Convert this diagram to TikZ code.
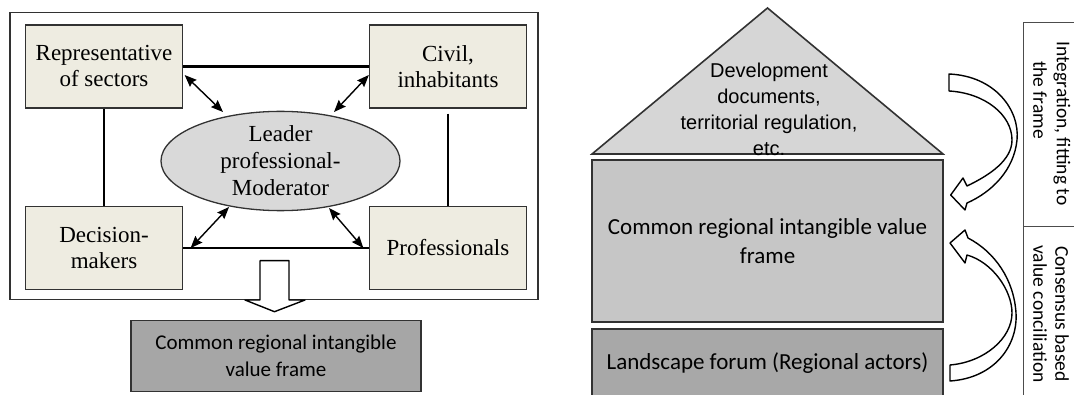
\documentclass[tikz,border=0pt]{standalone}
\usepackage{fontspec}
\setmainfont{Liberation Serif}
\newfontfamily\calfont{Carlito}
\newfontfamily\arifont{Liberation Sans}
\usetikzlibrary{arrows.meta,shapes.geometric}
\definecolor{beige}{RGB}{238,236,225}
\definecolor{ellgray}{RGB}{217,217,217}
\definecolor{darkbox}{RGB}{166,166,166}
\definecolor{trigray}{RGB}{214,214,214}
\definecolor{midgray}{RGB}{198,198,198}
\definecolor{landgray}{RGB}{168,168,168}
\definecolor{edge}{RGB}{50,50,50}
\begin{document}
\begin{tikzpicture}[x=1pt,y=-1pt,
  actor/.style={draw=edge,line width=1.3pt,fill=beige,minimum width=157pt,minimum height=83pt,inner sep=0pt,align=center,font=\fontsize{23}{26}\selectfont},
  link/.style={line width=2.6pt,black},
  dbl/.style={line width=1.4pt,{Stealth[length=12pt,width=9.5pt,inset=1.5pt]}-{Stealth[length=12pt,width=9.5pt,inset=1.5pt]}},
  hollow/.style={draw=black,line width=1.4pt,fill=white,line join=round},
  grayblock/.style={draw=edge,line width=1.6pt,inner sep=0pt,align=center},
  vlabel/.style={rotate=-90,font=\calfont\fontsize{19.5}{23}\selectfont,inner sep=0pt}
]
\useasboundingbox (0,0) rectangle (1074,395);
% ---------- left panel ----------
\node[draw=edge,line width=1.3pt,minimum width=528pt,minimum height=287pt,inner sep=0pt] (outer) at (274,156.3) {};
\node[actor] (rep) at (104,66.4) {Representative\\of sectors};
\node[actor] (civ) at (448,66.4) {Civil,\\inhabitants};
\node[actor] (dec) at (104,248) {Decision-\\makers};
\node[actor] (pro) at (448,248) {Professionals};
\node[ellipse,draw=edge,line width=1.3pt,fill=ellgray,minimum width=239pt,minimum height=96pt,inner sep=0pt,align=center,font=\fontsize{23}{27}\selectfont] (ell) at (280.5,161) {Leader\\professional-\\Moderator};
\draw[link] (rep.east) -- (civ.west);
\draw[link] (dec.east) -- (pro.west);
\draw[link] (rep.south) -- (dec.north);
\draw[link] ([yshift=-5pt]civ.south) -- (pro.north);
\draw[dbl] ([shift={(1.5,8.6)}]rep.east) -- ([shift={(-57.5,-49)}]ell.center);
\draw[dbl] ([shift={(0,8.6)}]civ.west) -- ([shift={(53.5,-49)}]ell.center);
\draw[dbl] ([shift={(7.5,0)}]dec.east) -- ([shift={(-51.5,46)}]ell.center);
\draw[dbl] ([shift={(-5.5,0)}]pro.west) -- ([shift={(48.5,47)}]ell.center);
\node[grayblock,fill=darkbox,minimum width=290pt,minimum height=71pt,font=\calfont\fontsize{21}{27}\selectfont] (lcommon) at (276,356) {Common regional intangible\\value frame};
\draw[hollow] (260,260.7) -- (289,260.7) -- (289,300) -- (305,300) -- (274.5,311.7) -- (245,300) -- (260,300) -- cycle;
% ---------- right panel ----------
\draw[draw=edge,line width=1.6pt,fill=trigray,line join=miter] (592,154) -- (767.5,8) -- (943,154) -- cycle;
\node[align=center,inner sep=0pt,font=\arifont\fontsize{20}{26}\selectfont] (dev) at (769,109) {Development\\documents,\\territorial regulation,\\etc.};
\node[grayblock,fill=midgray,minimum width=351pt,minimum height=162pt,font=\calfont\fontsize{23}{29}\selectfont] (rcommon) at (767.5,241) {Common regional intangible value\\frame};
\node[grayblock,fill=landgray,minimum width=351pt,minimum height=68pt,font=\calfont\fontsize{23}{29}\selectfont] (land) at (767.5,363) {Landscape forum (Regional actors)};
% curved arrows
\draw[hollow] (949,74) .. controls (995,76) and (1020,110) .. (1017,140)
  .. controls (1014,170) and (992,192) .. (967,203) -- (965,210) -- (950.7,195) -- (963,178) -- (967,186)
  .. controls (990,175) and (1012,160) .. (1012,140)
  .. controls (1012,115) and (985,93) .. (949,91) -- cycle;
\draw[hollow] (950,381) .. controls (995,378) and (1018,345) .. (1016,313)
  .. controls (1014,280) and (995,252) .. (968,238) -- (965,230) -- (950,243) -- (965,263) -- (967,255)
  .. controls (992,262) and (1012,290) .. (1012,313)
  .. controls (1012,338) and (985,362) .. (950,365) -- cycle;
% label column
\draw[line width=0.9pt,black!70] (1074,22) -- (1023,22) -- (1023,396);
\draw[line width=0.9pt,black!70] (1023,226.7) -- (1074,226.7);
\node[vlabel] (int1) at (1062,123.5) {Integration, fitting to};
\node[vlabel] (int2) at (1040,100) {the frame};
\node[vlabel] (con1) at (1062,314) {Consensus based};
\node[vlabel] (con2) at (1040,314) {value conciliation};
\end{tikzpicture}
\end{document}
